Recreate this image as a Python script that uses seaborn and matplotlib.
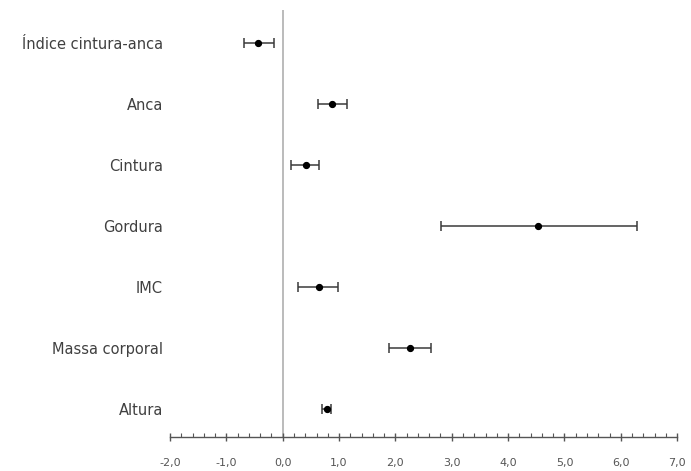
import numpy as np
import pandas as pd
import seaborn as sns
from matplotlib import pyplot as plt
from matplotlib.ticker import MultipleLocator, FuncFormatter

# Data
variables = ["Índice cintura-anca", "Anca", "Cintura", "Gordura", "IMC", "Massa corporal", "Altura"]
estimate = [-0.44, 0.87, 0.41, 4.53, 0.64, 2.26, 0.78]
ci_low = [-0.68, 0.62, 0.14, 2.81, 0.28, 1.88, 0.70]
ci_high = [-0.15, 1.14, 0.64, 6.29, 0.98, 2.63, 0.86]

df = pd.DataFrame({"var": variables, "est": estimate, "lo": ci_low, "hi": ci_high})

sns.set_theme(style="white")
plt.rcParams['font.family'] = ['DejaVu Sans']

fig = plt.figure(figsize=(6.91, 4.71), dpi=100)
ax = fig.add_axes([0.246, 0.072, 0.734, 0.907])

# zero reference line
ax.axvline(0, color="#b5b5b5", lw=1.3, zorder=0)

# confidence intervals
ypos = np.arange(len(df))
ax.errorbar(df["est"], ypos,
            xerr=[df["est"] - df["lo"], df["hi"] - df["est"]],
            fmt="none", ecolor="#3a3a3a", elinewidth=1.1, capsize=3.5, capthick=1.1, zorder=2)

sns.pointplot(data=df, x="est", y="var", order=variables, color="black",
              linestyle="none", marker="o", markersize=3.2, errorbar=None, ax=ax, zorder=3)

ax.set_xlim(-2.0, 7.0)
ax.set_ylim(6.46, -0.54)
ax.xaxis.set_major_locator(MultipleLocator(1.0))
ax.xaxis.set_minor_locator(MultipleLocator(0.2))
ax.xaxis.set_major_formatter(FuncFormatter(lambda v, p: f"{v:.1f}".replace(".", ",")))
ax.tick_params(axis="x", which="major", direction="inout", length=6, width=1, color="#555555",
               labelsize=8, labelcolor="#555555", pad=12, bottom=True)
ax.tick_params(axis="x", which="minor", direction="in", length=3, width=0.8, color="#555555", bottom=True)
ax.tick_params(axis="y", length=0, labelsize=10.5, labelcolor="#404040", pad=5)

for s in ["top", "right", "left"]:
    ax.spines[s].set_visible(False)
ax.spines["bottom"].set_color("#555555")
ax.spines["bottom"].set_linewidth(1.0)

ax.set_xlabel("")
ax.set_ylabel("")

plt.savefig("out.png", dpi=100)
